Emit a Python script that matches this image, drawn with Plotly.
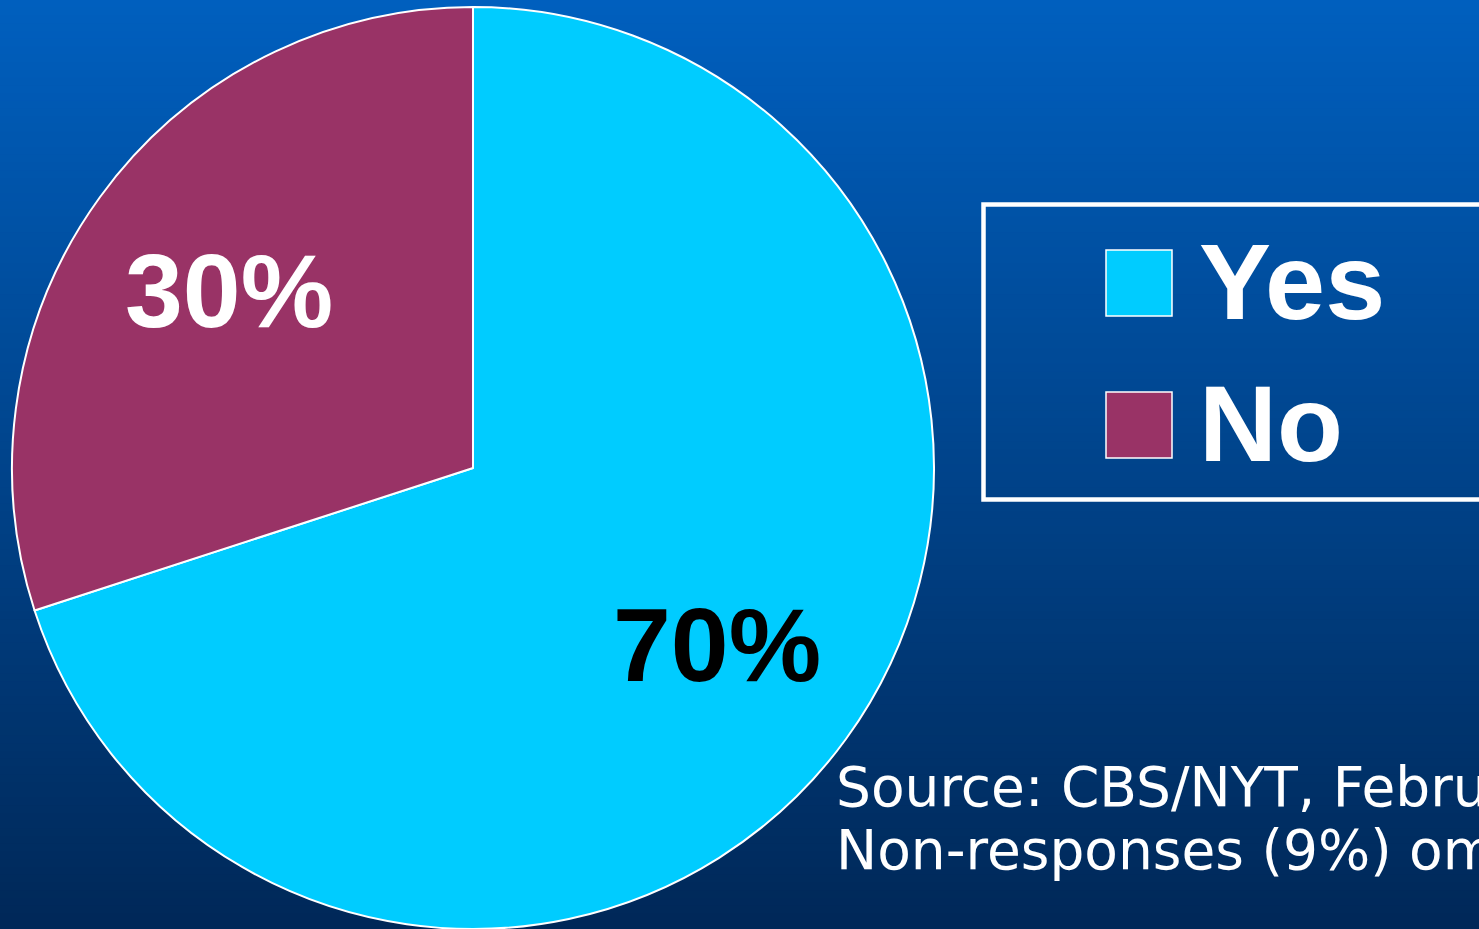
import math
import plotly.graph_objects as go

# ---- data ----
labels = ["Yes", "No"]
values = [70, 30]
colors = ["#00CCFF", "#993366"]
label_text_colors = ["black", "white"]
source_lines = ["Source: CBS/NYT, February 2003", "Non-responses (9%) omitted"]

W, H = 1479, 929

def px(x):
    return x / W

def py(y):
    return 1 - y / H

# pie geometry (pixels)
CX, CY, R = 473, 468, 461
LABEL_R = 0.655

shapes = []
# gradient background
top = (0, 95, 190)
bot = (0, 40, 88)
N = 120
for i in range(N):
    t = i / (N - 1)
    c = tuple(round(top[k] + (bot[k] - top[k]) * t) for k in range(3))
    y0 = 1 - i / N
    y1 = 1 - (i + 1) / N - 0.004
    shapes.append(dict(type="rect", xref="paper", yref="paper", x0=0, x1=1,
                       y0=y0, y1=max(y1, 0), fillcolor="rgb(%d,%d,%d)" % c,
                       line=dict(width=0), layer="below"))

# legend box
shapes.append(dict(type="rect", xref="paper", yref="paper",
                   x0=px(983.5), x1=1.05, y0=py(499.5), y1=py(204.5),
                   line=dict(color="white", width=4.5), fillcolor="rgba(0,0,0,0)",
                   layer="above"))

annotations = []
leg_sq_top = [250, 392]
leg_text_y = [281, 423]
for i, lab in enumerate(labels):
    shapes.append(dict(type="rect", xref="paper", yref="paper",
                       x0=px(1106), x1=px(1172), y0=py(leg_sq_top[i] + 66), y1=py(leg_sq_top[i]),
                       fillcolor=colors[i], line=dict(color="white", width=1.5), layer="above"))
    annotations.append(dict(text=lab, xref="paper", yref="paper", x=px(1197), y=py(leg_text_y[i]),
                            xanchor="left", yanchor="middle", showarrow=False,
                            font=dict(family="Liberation Sans, Arial", size=108, color="white",
                                      weight="bold")))

# slice percentage labels, placed along each slice's mid-angle
total = sum(values)
cum = 0
for v, col in zip(values, label_text_colors):
    theta = 2 * math.pi * (cum + v / 2) / total
    cum += v
    lx = CX + LABEL_R * R * math.sin(theta)
    ly = CY - LABEL_R * R * math.cos(theta)
    annotations.append(dict(text="%d%%" % round(100 * v / total), xref="paper", yref="paper",
                            x=px(lx), y=py(ly), xanchor="center", yanchor="middle",
                            showarrow=False,
                            font=dict(family="Liberation Sans, Arial", size=104, color=col,
                                      weight="bold")))

src_y = [787, 850]
for i, line in enumerate(source_lines):
    annotations.append(dict(text=line, xref="paper", yref="paper", x=px(834), y=py(src_y[i]),
                            xanchor="left", yanchor="middle", showarrow=False,
                            font=dict(family="Verdana, DejaVu Sans", size=55, color="white")))

fig = go.Figure(go.Pie(
    labels=labels, values=values, sort=False, direction="clockwise", rotation=0,
    marker=dict(colors=colors, line=dict(color="white", width=2)),
    textinfo="none",
    domain=dict(x=[px(CX - R), px(CX + R)], y=[py(CY + R), py(CY - R)]),
    showlegend=False, hoverinfo="label+percent",
))

fig.update_layout(
    width=W, height=H, margin=dict(l=0, r=0, t=0, b=0),
    paper_bgcolor="#00408A", plot_bgcolor="rgba(0,0,0,0)",
    shapes=shapes, annotations=annotations, showlegend=False,
)

fig.write_html("out.html", config={"displayModeBar": False},
               post_script="document.body.style.margin='0';document.body.style.overflow='hidden';")
